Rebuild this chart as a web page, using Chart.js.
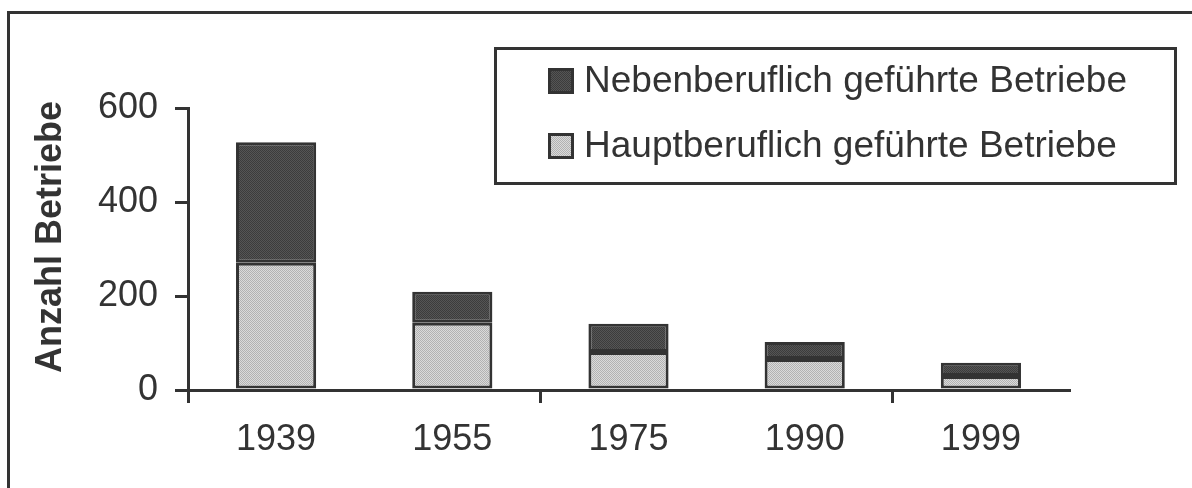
<!DOCTYPE html>
<html>
<head>
<meta charset="utf-8">
<script src="https://cdn.jsdelivr.net/npm/chart.js@4/dist/chart.umd.min.js"></script>
<style>
  html, body { margin: 0; padding: 0; background: #fff; }
  canvas { display: block; }
</style>
</head>
<body>
<canvas id="c" width="1192" height="488"></canvas>
<script>
const categories = ['1939', '1955', '1975', '1990', '1999'];
const hauptberuflich = [271, 143, 81, 66, 30];
const nebenberuflich = [256, 66, 60, 36, 28];
const seriesLabels = ['Hauptberuflich geführte Betriebe', 'Nebenberuflich geführte Betriebe'];
const yTicks = [0, 200, 400, 600];
const yTitle = 'Anzahl Betriebe';

const INK = '#333333';
const FONT = "'Liberation Sans', Arial, sans-serif";

function makePattern(base, dot) {
  const p = document.createElement('canvas');
  p.width = 2; p.height = 2;
  const g = p.getContext('2d');
  g.fillStyle = base; g.fillRect(0, 0, 2, 2);
  g.fillStyle = dot;
  g.fillRect(0, 0, 1, 1);
  g.fillRect(1, 1, 1, 1);
  return g.createPattern(p, 'repeat');
}
const lightFill = makePattern('#dadada', '#b2b2b2');
const darkFill = makePattern('#555555', '#3c3c3c');

const framePlugin = {
  id: 'frameAndLegend',
  beforeDraw(chart) {
    const ctx = chart.ctx;
    ctx.save();
    ctx.fillStyle = '#fff';
    ctx.fillRect(0, 0, chart.width, chart.height);
    ctx.strokeStyle = INK;
    ctx.lineWidth = 3;
    ctx.strokeRect(8.5, 12.5, 1400, 700);
    ctx.restore();
  },
  afterDraw(chart) {
    const ctx = chart.ctx;
    ctx.save();
    // legend box
    ctx.strokeStyle = INK;
    ctx.lineWidth = 3;
    ctx.fillStyle = '#fff';
    ctx.fillRect(495, 48, 681, 136);
    ctx.strokeRect(495.5, 48.5, 680, 135);
    const ds = chart.data.datasets;
    const rows = [ds[1], ds[0]];
    const rowY = [81, 146];
    ctx.font = '37px ' + FONT;
    ctx.textBaseline = 'middle';
    ctx.textAlign = 'left';
    rows.forEach((d, i) => {
      const y = rowY[i];
      ctx.fillStyle = d.backgroundColor;
      ctx.fillRect(548, y - 13, 26, 26);
      ctx.lineWidth = 3;
      ctx.strokeStyle = INK;
      ctx.strokeRect(549.5, y - 11.5, 23, 23);
      ctx.fillStyle = INK;
      ctx.fillText(d.label, 584, y + 1);
    });
    // y axis title
    ctx.translate(51, 237);
    ctx.rotate(-Math.PI / 2);
    ctx.font = 'bold 36px ' + FONT;
    ctx.textAlign = 'center';
    ctx.textBaseline = 'middle';
    ctx.fillStyle = INK;
    ctx.fillText(yTitle, 0, 0);
    ctx.restore();
  }
};

new Chart(document.getElementById('c'), {
  type: 'bar',
  data: {
    labels: categories,
    datasets: [
      { label: seriesLabels[0], data: hauptberuflich, backgroundColor: lightFill,
        borderColor: INK, borderWidth: 3, borderSkipped: false,
        categoryPercentage: 1.0, barPercentage: 0.455 },
      { label: seriesLabels[1], data: nebenberuflich, backgroundColor: darkFill,
        borderColor: INK, borderWidth: 3, borderSkipped: false,
        categoryPercentage: 1.0, barPercentage: 0.455 }
    ]
  },
  options: {
    responsive: false,
    animation: false,
    devicePixelRatio: 1,
    layout: { padding: { left: 0, top: 108, right: 123, bottom: 0 } },
    plugins: { legend: { display: false }, tooltip: { enabled: false } },
    scales: {
      x: {
        stacked: true,
        offset: true,
        afterFit(scale) { scale.height = 98; },
        grid: {
          offset: true,
          drawOnChartArea: false,
          drawTicks: true,
          tickLength: 13,
          color: (c) => (c.index % 2 === 0 ? INK : 'rgba(0,0,0,0)'),
          lineWidth: 3
        },
        border: { display: true, color: INK, width: 3 },
        ticks: { color: INK, padding: 15, font: { family: FONT, size: 36, lineHeight: 1.2 }, maxRotation: 0 }
      },
      y: {
        stacked: true,
        min: 0,
        max: 600,
        afterFit(scale) { scale.width = 188; },
        afterBuildTicks(scale) { scale.ticks = yTicks.map(v => ({ value: v })); },
        grid: {
          drawOnChartArea: false,
          drawTicks: true,
          tickLength: 13,
          color: INK,
          lineWidth: 3
        },
        border: { display: true, color: INK, width: 3 },
        ticks: { color: INK, padding: 17, font: { family: FONT, size: 36, lineHeight: 1.2 } }
      }
    }
  },
  plugins: [framePlugin]
});
</script>
</body>
</html>
